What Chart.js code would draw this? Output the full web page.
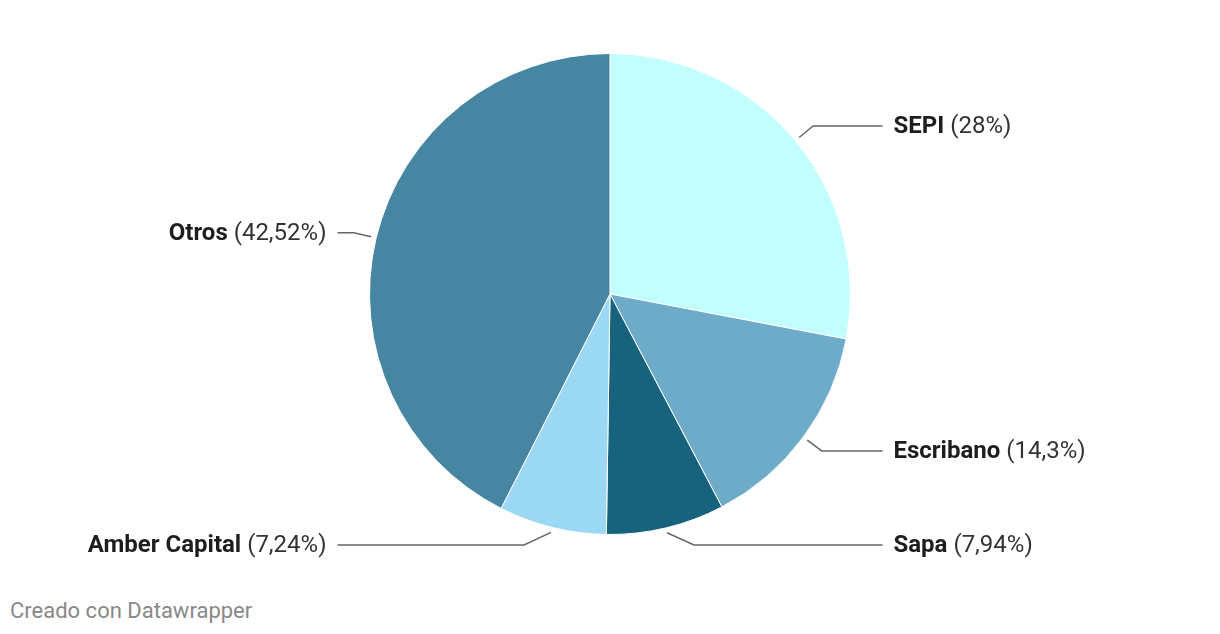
<!DOCTYPE html>
<html>
<head>
<meta charset="utf-8">
<script src="https://cdn.jsdelivr.net/npm/chart.js@4"></script>
<style>
  html, body { margin: 0; padding: 0; background: #fff; }
  #wrap { position: relative; width: 1220px; height: 588px; }
  #credit {
    position: absolute; left: 10px; top: 598px;
    font: 22px Roboto, sans-serif; color: #888;
  }
</style>
</head>
<body>
<div id="wrap"><canvas id="chart"></canvas></div>
<div id="credit">Creado con Datawrapper</div>
<script>
// datos del gráfico
const labels = ['SEPI', 'Escribano', 'Sapa', 'Amber Capital', 'Otros'];
const values = [28, 14.3, 7.94, 7.24, 42.52];
const colors = ['#c2fefd', '#6eabc9', '#17627d', '#9bd8f4', '#4686a2'];

// etiquetas con líneas guía, estilo Datawrapper
const leaderLabels = {
  id: 'leaderLabels',
  afterDraw(chart) {
    const ctx = chart.ctx;
    const meta = chart.getDatasetMeta(0);
    const maxY = chart.chartArea.bottom + 10;
    ctx.save();
    meta.data.forEach((arc, i) => {
      const { x, y, outerRadius, startAngle, endAngle } = arc.getProps(['x', 'y', 'outerRadius', 'startAngle', 'endAngle'], true);
      const mid = (startAngle + endAngle) / 2;
      const cos = Math.cos(mid), sin = Math.sin(mid);
      const right = cos >= 0;
      const sx = x + cos * (outerRadius + 5);
      const sy = y + sin * (outerRadius + 5);
      let ex = x + cos * (outerRadius + 23);
      let ey = y + sin * (outerRadius + 23);
      if (ey > maxY) {
        ey = maxY;
        ex = sx + (right ? 27 : -27);
      }
      const lx = right ? x + outerRadius + 32 : x - outerRadius - 32;
      ctx.strokeStyle = '#666';
      ctx.lineWidth = 1.5;
      ctx.beginPath();
      ctx.moveTo(sx, sy);
      ctx.lineTo(ex, ey);
      ctx.lineTo(lx, ey);
      ctx.stroke();

      const name = labels[i];
      const pct = ' (' + String(values[i]).replace('.', ',') + '%)';
      ctx.textBaseline = 'middle';
      ctx.textAlign = 'left';
      ctx.font = "bold 24px Roboto, sans-serif";
      const wName = ctx.measureText(name).width;
      ctx.font = "24px Roboto, sans-serif";
      const wPct = ctx.measureText(pct).width;
      let tx = right ? lx + 11 : lx - 11 - wName - wPct;
      ctx.font = "bold 24px Roboto, sans-serif";
      ctx.fillStyle = '#1d1d1d';
      ctx.fillText(name, tx, ey + 1);
      ctx.font = "24px Roboto, sans-serif";
      ctx.fillStyle = '#333';
      ctx.fillText(pct, tx + wName, ey + 1);
    });
    ctx.restore();
  }
};

new Chart(document.getElementById('chart'), {
  type: 'pie',
  data: {
    labels: labels,
    datasets: [{
      data: values,
      backgroundColor: colors,
      borderColor: '#fff',
      borderWidth: 1,
      hoverOffset: 0
    }]
  },
  options: {
    responsive: true,
    maintainAspectRatio: false,
    animation: false,
    layout: { padding: { top: 53, bottom: 53 } },
    plugins: {
      legend: { display: false },
      tooltip: { enabled: false }
    }
  },
  plugins: [leaderLabels]
});
</script>
</body>
</html>
